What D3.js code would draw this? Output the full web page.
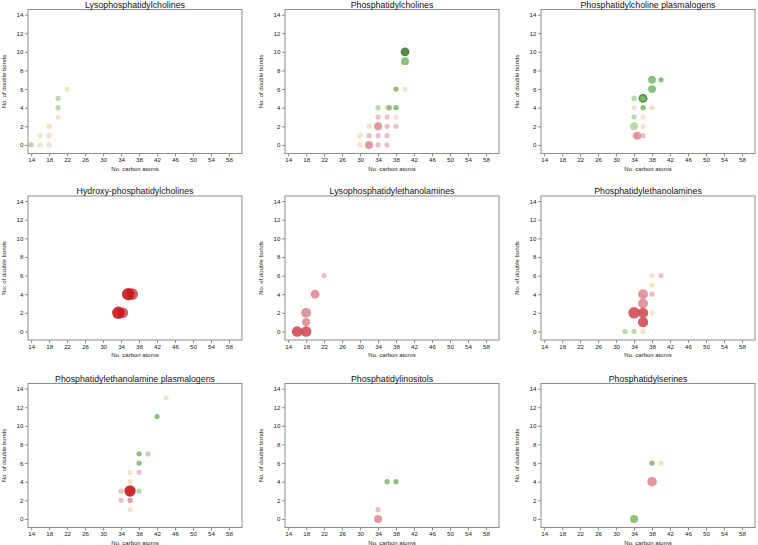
<!DOCTYPE html>
<html>
<head>
<meta charset="utf-8">
<script src="https://cdn.jsdelivr.net/npm/d3@7"></script>
<style>
  html, body { margin: 0; padding: 0; background: #fff; }
  svg { display: block; font-family: "Liberation Sans", Arial, sans-serif; }
</style>
</head>
<body>
<svg id="chart" width="758" height="545"></svg>
<script>
// ---------- data ----------
const panelTitles = [
  "Lysophosphatidylcholines", "Phosphatidylcholines", "Phosphatidylcholine plasmalogens",
  "Hydroxy-phosphatidylcholines", "Lysophosphatidylethanolamines", "Phosphatidylethanolamines",
  "Phosphatidylethanolamine plasmalogens", "Phosphatidylinositols", "Phosphatidylserines"
];
const xTicks = [14, 18, 22, 26, 30, 34, 38, 42, 46, 50, 54, 58];
const yTicks = [0, 2, 4, 6, 8, 10, 12, 14];
const changeClasses = ["up3", "up2", "up1", "ns", "down1", "down2", "down3", "down4"];
const changeColors  = ["#3f7f32", "#82b96f", "#b1d4a2", "#f5dfc2", "#e8b8bf", "#de8c92", "#d14d55", "#c8151e"];

// [carbon atoms, double bonds, change class, significance level]
const pointsLPC = [
  [14,0,"up1",1],[16,0,"ns",1],[16,1,"ns",1],[18,0,"ns",1],[18,1,"ns",1],[18,2,"ns",1],
  [20,3,"ns",1],[20,4,"up1",1],[20,5,"up1",1],[22,6,"ns",1]
];
const pointsPC = [
  [40,9,"up2",2.5],[40,10,"up3",3],[38,6,"up2",1],[40,6,"ns",1],[34,4,"up1",1],[36,4,"ns",1],
  [36.5,4,"up2",1],[38,4,"up2",1],[34,3,"down1",1],[36,3,"down1",1],[38,3,"ns",1],
  [32,2,"ns",1],[34,2,"down2",2.5],[36,2,"down1",1],[38,2,"down1",1],
  [30,1,"ns",1],[32,1,"down1",1],[34,1,"down1",1],[36,1,"down1",1],
  [30,0,"ns",1],[32,0,"down2",2.5],[34,0,"down1",1],[36,0,"down1",1]
];
const pointsPCp = [
  [38,7,"up2",2.5],[40,7,"up2",1],[38,6,"up2",2.5],[36,5,"up3",3],[36,5,"up2",1.3],
  [34,5,"up1",1],[34,4,"ns",1],[36,4,"up2",1],[38,4,"ns",1],[34,3,"up1",1],[36,3,"ns",1],
  [34,2,"up1",2.5],[36,2,"ns",1],[34,1,"ns",1],[36,1,"down1",1],[34.7,1,"down2",2.5]
];
const pointsHPC = [
  [34.4,2,"down3",4],[33.4,2,"down4",5],[36.5,4,"down3",4.6],[35.6,4,"down4",5]
];
const pointsLPE = [
  [16,0,"down3",4],[18,0,"down3",4],[18,1,"down2",2.6],[18,2,"down2",3.6],[20,4,"down2",3],[22,6,"down1",1]
];
const pointsPE = [
  [32,0,"up1",1],[34,0,"up1",1],[36,0,"ns",1],[36,4,"down2",3.6],[36,3,"down2",3.6],
  [34,2,"down3",4.5],[36,2,"down3",3.8],[36,1,"down3",3.8],[38,2,"ns",1],[38,4,"down1",1],
  [38,5,"ns",1],[38,6,"ns",1],[40,6,"down1",1]
];
const pointsPEp = [
  [44,13,"ns",1],[42,11,"up2",1],[38,7,"up2",1],[40,7,"up1",1],[38,6,"up2",1],[36,5,"ns",1],
  [38,5,"down1",1],[36,4,"ns",1],[34,3,"down1",1],[38,3,"up1",1],[34,2,"down1",1],
  [36,2,"down2",1],[36,1,"ns",1],[36,3,"down4",4.4]
];
const pointsPI = [
  [36,4,"up2",1],[38,4,"up2",1],[34,1,"down1",1],[34,0,"down2",2.5]
];
const pointsPS = [
  [38,6,"up2",1],[40,6,"ns",1],[38,4,"down2",3.4],[34,0,"up2",2.6]
];
const panelPoints = [pointsLPC, pointsPC, pointsPCp, pointsHPC, pointsLPE, pointsPE, pointsPEp, pointsPI, pointsPS];

// ---------- layout ----------
const colLefts = [28, 285, 541];
const rowTops = [9.5, 196, 383.5];
const plotW = 214, plotH = 144;

const svg = d3.select("#chart");
const color = d3.scaleOrdinal().domain(changeClasses).range(changeColors);
const radius = d3.scaleLinear().domain([1, 5]).range([2.6, 6.2]);
const x = d3.scaleLinear().domain([13.3, 60.9]).range([0, plotW]);
const y = d3.scaleLinear().domain([-0.92, 14.55]).range([plotH, 0]);
const frameColor = "#8c8c8c";

panelTitles.forEach((title, i) => {
  const col = i % 3, row = Math.floor(i / 3);
  const g = svg.append("g").attr("transform", `translate(${colLefts[col]},${rowTops[row]})`);

  // points
  g.append("g").selectAll("circle")
    .data(panelPoints[i])
    .join("circle")
    .attr("cx", d => x(d[0]))
    .attr("cy", d => y(d[1]))
    .attr("r", d => radius(d[3]))
    .attr("fill", d => color(d[2]))
    .attr("fill-opacity", 0.9);

  // frame
  g.append("rect").attr("x", 0).attr("y", 0).attr("width", plotW).attr("height", plotH)
    .attr("fill", "none").attr("stroke", frameColor).attr("stroke-width", 1);

  // axes
  const xa = g.append("g").attr("transform", `translate(0,${plotH})`)
    .call(d3.axisBottom(x).tickValues(xTicks).tickSize(3).tickPadding(1.5));
  const ya = g.append("g")
    .call(d3.axisLeft(y).tickValues(yTicks).tickSize(3).tickPadding(1.5));
  [xa, ya].forEach(a => {
    a.select(".domain").remove();
    a.selectAll(".tick line").attr("stroke", frameColor);
    a.selectAll(".tick text").attr("fill", "#222").style("font-size", "6.2px")
      .style("font-family", "Liberation Sans, Arial, sans-serif");
  });

  // titles
  g.append("text").attr("x", plotW / 2).attr("y", -2)
    .attr("text-anchor", "middle").attr("fill", "#111")
    .style("font-size", "8.8px").text(title);
  g.append("text").attr("x", plotW / 2).attr("y", plotH + 17)
    .attr("text-anchor", "middle").attr("fill", "#222")
    .style("font-size", "6px").text("No. carbon atoms");
  g.append("text").attr("transform", `translate(${-22},${plotH / 2}) rotate(-90)`)
    .attr("text-anchor", "middle").attr("fill", "#222")
    .style("font-size", "6px").text("No. of double bonds");
});
</script>
</body>
</html>
